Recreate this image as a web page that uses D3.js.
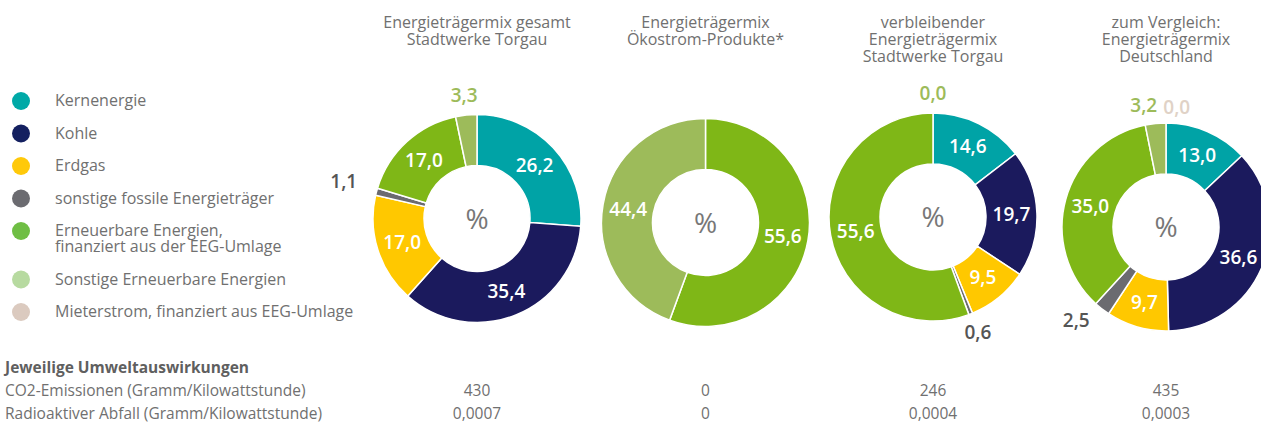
<!DOCTYPE html>
<html>
<head>
<meta charset="utf-8">
<script src="https://cdn.jsdelivr.net/npm/d3@7"></script>
<style>
  body { margin: 0; background: #fff; }
  svg { font-family: "Open Sans", "Noto Sans", sans-serif; display: block; }
</style>
</head>
<body>
<svg id="chart" width="1261" height="424"></svg>
<script>
// categories, in the order the wedges run clockwise from 12 o'clock
const categories = [
    'Kernenergie',
    'Kohle',
    'Erdgas',
    'sonstige fossile Energieträger',
    'Erneuerbare Energien,\nfinanziert aus der EEG-Umlage',
    'Sonstige Erneuerbare Energien',
    'Mieterstrom, finanziert aus EEG-Umlage'
];
const wedgeColors  = ['#00a3a6', '#1b1a5d', '#ffc800', '#6b6b70', '#7fb717', '#9dbb5a', '#dccbc0'];
const legendColors = ['#00a9a7', '#142060', '#ffc90a', '#6b6b70', '#6fbe44', '#b7daa0', '#dbcabf'];
const outerLabelColors = ['#555', '#555', '#555', '#555555', '#7fb717', '#9dbb5a', '#e0d2c6'];

const titles = [
    ['Energieträgermix gesamt', 'Stadtwerke Torgau'],
    ['Energieträgermix', 'Ökostrom-Produkte*'],
    ['verbleibender', 'Energieträgermix', 'Stadtwerke Torgau'],
    ['zum Vergleich:', 'Energieträgermix', 'Deutschland']
];

// percentages per chart; null = no wedge and no label
const mixGesamt      = [26.2, 35.4, 17.0, 1.1, 17.0, 3.3, null];
const mixOekostrom   = [null, null, null, null, 55.6, 44.4, null];
const mixVerbleib    = [14.6, 19.7, 9.5, 0.6, 55.6, 0.0, null];
const mixDeutschland = [13.0, 36.6, 9.7, 2.5, 35.0, 3.2, 0.0];
const mixes = [mixGesamt, mixOekostrom, mixVerbleib, mixDeutschland];

const impactHeading = 'Jeweilige Umweltauswirkungen';
const impactRows = ['CO2-Emissionen (Gramm/Kilowattstunde)', 'Radioaktiver Abfall (Gramm/Kilowattstunde)'];
const co2Values = ['430', '0', '246', '435'];
const wasteValues = ['0,0007', '0', '0,0004', '0,0003'];

// layout
const centersX = [477, 705.5, 933, 1166];
const centersY = [218.5, 222.5, 217, 227];
const innerR = 53, outerR = 104;
const textGrey = '#707070';

const svg = d3.select('#chart');
const fmt = v => d3.format('.1f')(v).replace('.', ',');

// legend
const legend = svg.append('g');
categories.forEach((c, i) => {
    const y = 101 + i * 32.5 + (i > 4 ? 16 : 0);
    legend.append('circle').attr('cx', 21).attr('cy', y).attr('r', 9).attr('fill', legendColors[i]);
    const t = legend.append('text').attr('x', 55).attr('y', y + 5)
        .attr('font-size', 16).attr('fill', textGrey);
    c.split('\n').forEach((line, j) => {
        t.append('tspan').attr('x', 55).attr('dy', j ? 16 : 0).text(line);
    });
});

const pie = d3.pie().sort(null).value(d => d.value || 0);
const arc = d3.arc().innerRadius(innerR).outerRadius(outerR);

mixes.forEach((mix, k) => {
    const cx = centersX[k], cy = centersY[k];

    // title
    const title = svg.append('text').attr('text-anchor', 'middle')
        .attr('font-size', 16).attr('fill', textGrey);
    titles[k].forEach((line, j) => {
        title.append('tspan').attr('x', cx).attr('y', 28 + j * 17).text(line);
    });

    const g = svg.append('g').attr('transform', 'translate(' + cx + ',' + cy + ')');
    const arcs = pie(mix.map((v, i) => ({ value: v, i: i })));

    g.selectAll('path.wedge')
        .data(arcs.filter(a => a.data.value))
        .join('path')
        .attr('class', 'wedge')
        .attr('d', arc)
        .attr('fill', a => wedgeColors[a.data.i])
        .attr('stroke', '#fff')
        .attr('stroke-width', 1.5);

    g.append('text').attr('text-anchor', 'middle').attr('dy', '0.36em')
        .attr('font-size', 28).attr('fill', '#777').text('%');

    // inner labels
    g.selectAll('text.inner')
        .data(arcs.filter(a => a.data.value !== null && a.data.value >= 5))
        .join('text')
        .attr('class', 'inner')
        .attr('transform', a => 'translate(' + arc.centroid(a) + ')')
        .attr('text-anchor', 'middle').attr('dy', '0.36em')
        .attr('font-size', 19).attr('font-weight', 600).attr('fill', '#fff')
        .text(a => fmt(a.data.value));

    // outer labels for small slices
    const outer = arcs.filter(a => a.data.value !== null && a.data.value < 5).map(a => {
        const ang = (a.startAngle + a.endAngle) / 2;
        const r = 124;
        const s = Math.sin(ang);
        return {
            a: a,
            x: r * s,
            y: -r * Math.cos(ang) - (Math.abs(s) > 0.4 ? 5 : 0),
            anchor: s < -0.4 ? 'end' : (s > 0.4 ? 'start' : 'middle')
        };
    });
    // push apart labels that would overlap
    for (let i = 0; i < outer.length; i++) {
        for (let j = i + 1; j < outer.length; j++) {
            const p = outer[i], q = outer[j];
            if (Math.abs(p.x - q.x) < 30 && Math.abs(p.y - q.y) < 16) {
                const mid = (p.x + q.x) / 2;
                const left = p.x <= q.x ? p : q, right = left === p ? q : p;
                left.x = mid - 16; right.x = mid + 17;
                left.y += 2; right.y += 4;
            }
        }
    }
    g.selectAll('text.outer')
        .data(outer)
        .join('text')
        .attr('class', 'outer')
        .attr('x', d => d.x).attr('y', d => d.y)
        .attr('text-anchor', d => d.anchor).attr('dy', '0.36em')
        .attr('font-size', 19).attr('font-weight', 600)
        .attr('fill', d => outerLabelColors[d.a.data.i])
        .text(d => fmt(d.a.data.value));
});

// environmental impact table
svg.append('text').attr('x', 5).attr('y', 373)
    .attr('font-size', 15.5).attr('font-weight', 700).attr('fill', '#5f5f5f')
    .text(impactHeading);
[co2Values, wasteValues].forEach((vals, r) => {
    const y = 396 + r * 23;
    svg.append('text').attr('x', 5).attr('y', y)
        .attr('font-size', 15.5).attr('fill', textGrey).text(impactRows[r]);
    vals.forEach((v, k) => {
        svg.append('text').attr('x', centersX[k]).attr('y', y)
            .attr('text-anchor', 'middle').attr('font-size', 15.5).attr('fill', textGrey).text(v);
    });
});
</script>
</body>
</html>
